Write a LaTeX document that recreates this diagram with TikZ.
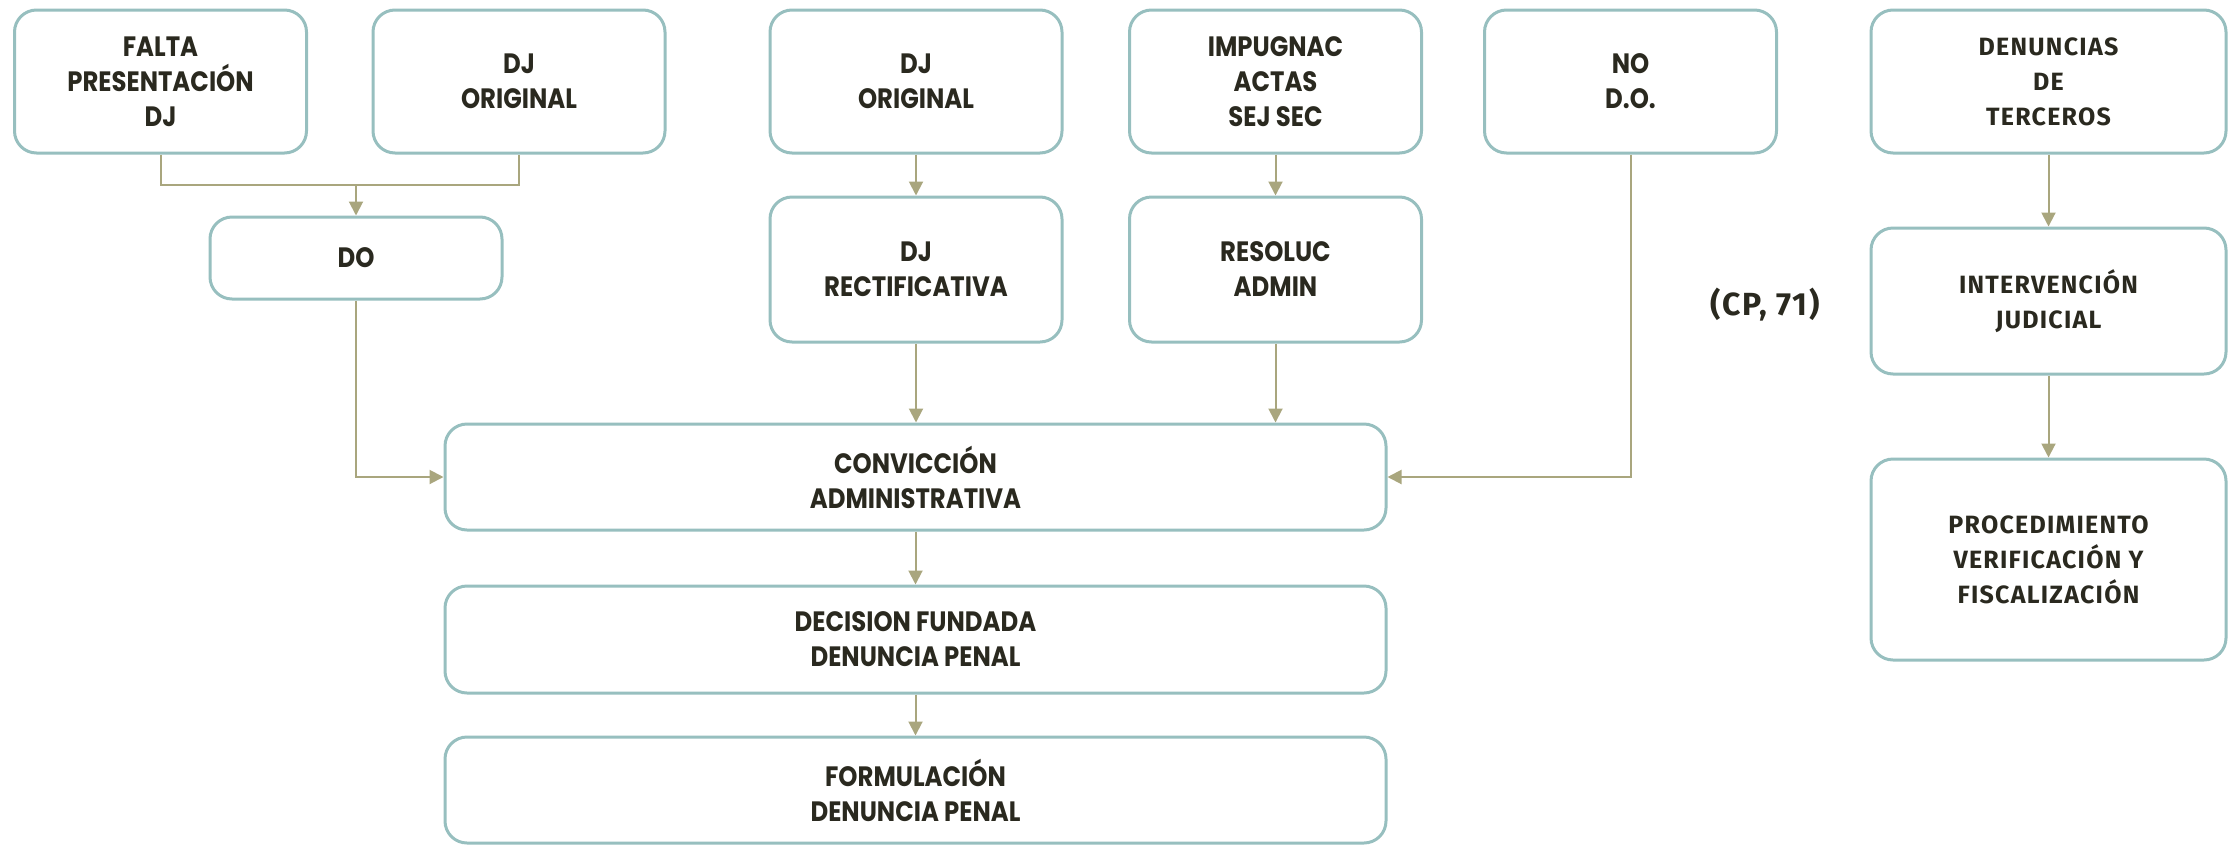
\documentclass[tikz,border=0pt]{standalone}
\usepackage{fontspec}
\usepackage{tikz}
\usetikzlibrary{arrows.meta}
\newfontfamily\izq[FakeStretch=0.87]{Poppins}
\newfontfamily\der[LetterSpace=5]{Fira Sans}
\definecolor{borde}{HTML}{97BFBF}
\definecolor{flechacol}{HTML}{A9A67E}
\definecolor{tinta}{HTML}{2A291F}
\tikzset{
  caja/.style={draw=borde, line width=3pt, rounded corners=22pt, align=center, text=tinta,
    minimum width=292pt, inner sep=0pt, font={\izq\bfseries\fontsize{28}{35}\selectfont}},
  cajader/.style={caja, minimum width=355pt, font={\der\bfseries\fontsize{25}{35}\selectfont}},
  linea/.style={draw=flechacol, line width=2pt},
  flecha/.style={linea, -{Triangle[length=14pt,width=14pt]}},
}

\begin{document}
\begin{tikzpicture}[x=1pt,y=-1pt]
	\useasboundingbox (0,0) rectangle (2236,844);
	\node[caja, minimum height=143pt] (falta) at (160.5,81.5) {FALTA\\PRESENTACIÓN\\DJ};
	\node[caja, minimum height=143pt] (djol) at (519,81.5) {DJ\\ORIGINAL};
	\node[caja, minimum height=82pt] (do) at (356,258) {DO};
	\node[caja, minimum height=143pt] (djom) at (916,81.5) {DJ\\ORIGINAL};
	\node[caja, minimum height=145pt] (djr) at (916,269.5) {DJ\\RECTIFICATIVA};
	\node[caja, minimum height=143pt] (impug) at (1275.5,81.5) {IMPUGNAC\\ACTAS\\SEJ SEC};
	\node[caja, minimum height=145pt] (resol) at (1275.5,269.5) {RESOLUC\\ADMIN};
	\node[caja, minimum height=143pt] (nodo) at (1630.5,81.5) {NO\\D.O.};
	\node[caja, minimum width=941pt, minimum height=106pt] (conv) at (915.5,477) {CONVICCIÓN\\ADMINISTRATIVA};
	\node[caja, minimum width=941pt, minimum height=107pt] (dec) at (915.5,639.5) {DECISION FUNDADA\\DENUNCIA PENAL};
	\node[caja, minimum width=941pt, minimum height=106pt] (form) at (915.5,790) {FORMULACIÓN\\DENUNCIA PENAL};
	\node[text=tinta, font={\der\bfseries\fontsize{32}{34}\selectfont}] (cp) at (1765,305) {(CP, 71)};
	\node[cajader, minimum height=143pt] (denun) at (2048.5,81.5) {DENUNCIAS\\DE\\TERCEROS};
	\node[cajader, minimum height=146pt] (interv) at (2048.5,301) {INTERVENCIÓN\\JUDICIAL};
	\node[cajader, minimum height=201pt] (proc) at (2048.5,559.5) {PROCEDIMIENTO\\VERIFICACIÓN Y\\FISCALIZACIÓN};
	\coordinate (junta) at (356,185);
	% conectores
	\draw[linea] (falta.south) |- (junta) -| (djol.south);
	\draw[flecha] (junta) -- (do.north);
	\draw[flecha] (do.south) |- (conv.west);
	\draw[flecha] (djom.south) -- (djr.north);
	\draw[flecha] (djr.south) -- (djr.south |- conv.north);
	\draw[flecha] (impug.south) -- (resol.north);
	\draw[flecha] (resol.south) -- (resol.south |- conv.north);
	\draw[flecha] (nodo.south) |- (conv.east);
	\draw[flecha] (conv.south) -- (dec.north);
	\draw[flecha] (dec.south) -- (form.north);
	\draw[flecha] (denun.south) -- (interv.north);
	\draw[flecha] (interv.south) -- (proc.north);
\end{tikzpicture}
\end{document}
